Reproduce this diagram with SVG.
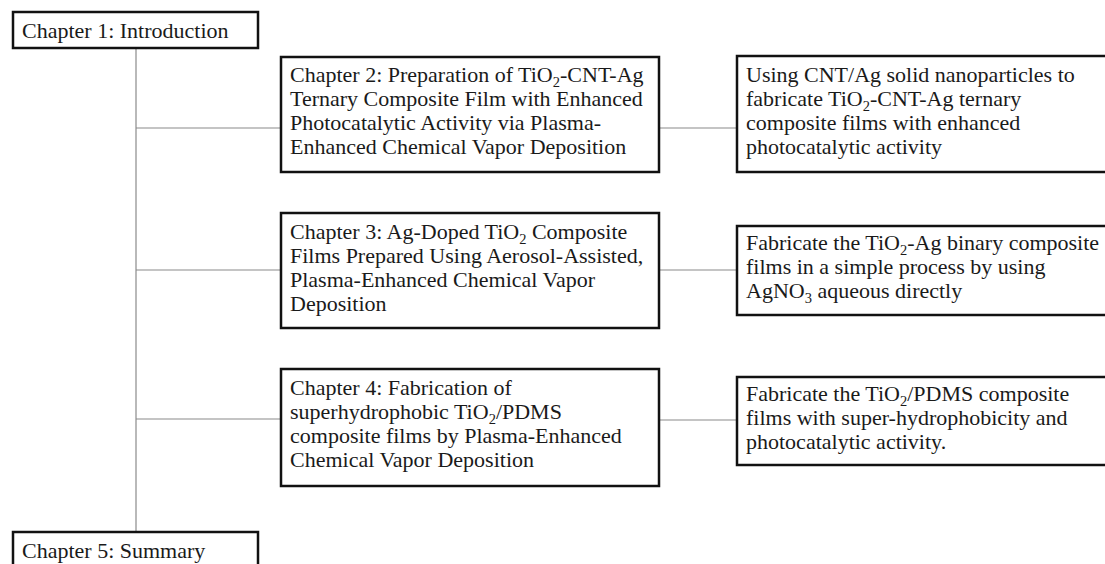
<svg xmlns="http://www.w3.org/2000/svg" width="1105" height="564" viewBox="0 0 1105 564">
<style>
.box{fill:#fff;stroke:#111;stroke-width:2.5}
.lbl{font-family:"Liberation Serif","Times New Roman",serif;font-size:22px;fill:#1a1a1a}
.sub{font-size:14.5px}
.con{stroke:#8a8a8a;stroke-width:1.2;fill:none}
</style>
<rect width="1105" height="564" fill="#fff"/>
<g id="connectors">
<line class="con" x1="136" y1="48" x2="136" y2="532"/>
<line class="con" x1="136" y1="128" x2="281" y2="128"/>
<line class="con" x1="136" y1="270" x2="281" y2="270"/>
<line class="con" x1="136" y1="419" x2="281" y2="419"/>
<line class="con" x1="659" y1="128" x2="737" y2="128"/>
<line class="con" x1="659" y1="270" x2="737" y2="270"/>
<line class="con" x1="659" y1="420" x2="737" y2="420"/>
</g>
<g id="ch1">
<rect class="box" x="13" y="12" width="245" height="36"/>
<text class="lbl" x="22" y="38">Chapter 1: Introduction</text>
</g>
<g id="ch2">
<rect class="box" x="281" y="57" width="378" height="115"/>
<text class="lbl" x="290" y="82">Chapter 2: Preparation of TiO<tspan class="sub" dy="5">2</tspan><tspan dy="-5">-CNT-Ag</tspan></text>
<text class="lbl" x="290" y="106">Ternary Composite Film with Enhanced</text>
<text class="lbl" x="290" y="130">Photocatalytic Activity via Plasma-</text>
<text class="lbl" x="290" y="154">Enhanced Chemical Vapor Deposition</text>
</g>
<g id="res2">
<rect class="box" x="737" y="56" width="370" height="116"/>
<text class="lbl" x="746" y="82">Using CNT/Ag solid nanoparticles to</text>
<text class="lbl" x="746" y="106">fabricate TiO<tspan class="sub" dy="5">2</tspan><tspan dy="-5">-CNT-Ag ternary</tspan></text>
<text class="lbl" x="746" y="130">composite films with enhanced</text>
<text class="lbl" x="746" y="154">photocatalytic activity</text>
</g>
<g id="ch3">
<rect class="box" x="281" y="213" width="378" height="115"/>
<text class="lbl" x="290" y="239">Chapter 3: Ag-Doped TiO<tspan class="sub" dy="5">2</tspan><tspan dy="-5"> Composite</tspan></text>
<text class="lbl" x="290" y="263">Films Prepared Using Aerosol-Assisted,</text>
<text class="lbl" x="290" y="287">Plasma-Enhanced Chemical Vapor</text>
<text class="lbl" x="290" y="311">Deposition</text>
</g>
<g id="res3">
<rect class="box" x="737" y="226" width="370" height="89"/>
<text class="lbl" x="746" y="250">Fabricate the TiO<tspan class="sub" dy="5">2</tspan><tspan dy="-5">-Ag binary composite</tspan></text>
<text class="lbl" x="746" y="274">films in a simple process by using</text>
<text class="lbl" x="746" y="298">AgNO<tspan class="sub" dy="5">3</tspan><tspan dy="-5"> aqueous directly</tspan></text>
</g>
<g id="ch4">
<rect class="box" x="281" y="369" width="378" height="117"/>
<text class="lbl" x="290" y="395">Chapter 4: Fabrication of</text>
<text class="lbl" x="290" y="419">superhydrophobic TiO<tspan class="sub" dy="5">2</tspan><tspan dy="-5">/PDMS</tspan></text>
<text class="lbl" x="290" y="443">composite films by Plasma-Enhanced</text>
<text class="lbl" x="290" y="467">Chemical Vapor Deposition</text>
</g>
<g id="res4">
<rect class="box" x="737" y="377" width="370" height="88"/>
<text class="lbl" x="746" y="401">Fabricate the TiO<tspan class="sub" dy="5">2</tspan><tspan dy="-5">/PDMS composite</tspan></text>
<text class="lbl" x="746" y="425">films with super-hydrophobicity and</text>
<text class="lbl" x="746" y="449">photocatalytic activity.</text>
</g>
<g id="ch5">
<rect class="box" x="13" y="532" width="245" height="40"/>
<text class="lbl" x="22" y="558">Chapter 5: Summary</text>
</g>
</svg>
